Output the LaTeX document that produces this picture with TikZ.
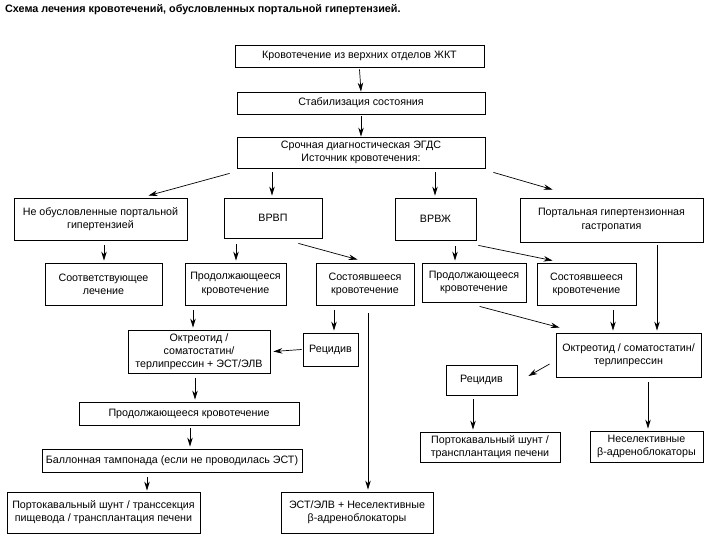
\documentclass[tikz,border=0pt]{standalone}
\usepackage{fontspec}
\setmainfont{Liberation Sans}
\usetikzlibrary{arrows.meta,calc}
\tikzset{
  box/.style={draw, line width=0.8pt, align=center, inner sep=0.5pt, font=\fontsize{10.7}{13.2}\selectfont},
  arr/.style={line width=0.7pt, -{Stealth[length=9pt,width=5.5pt]}},
}
\begin{document}
\begin{tikzpicture}[x=1pt,y=-1pt]
\useasboundingbox[fill=white] (0,0) rectangle (720,540);
\node[anchor=west, font=\bfseries\fontsize{10.8}{12}\selectfont, inner sep=0pt] (title) at (5,10) {Схема лечения кровотечений, обусловленных портальной гипертензией.};

\node[box, minimum width=249pt, minimum height=22pt] (B1) at (359.5,56) {Кровотечение из верхних отделов ЖКТ};
\node[box, minimum width=248pt, minimum height=22pt] (B2) at (361,103) {Стабилизация состояния};
\node[box, minimum width=248pt, minimum height=31pt] (B3) at (361,152.5) {Срочная диагностическая ЭГДС\\Источник кровотечения:};

\node[box, minimum width=173pt, minimum height=42pt] (L1) at (100.5,219) {Не обусловленные портальной\\гипертензией};
\node[box, minimum width=98pt, minimum height=40pt] (V1) at (273,218) {ВРВП};
\node[box, minimum width=81pt, minimum height=42pt] (V2) at (435.5,219) {ВРВЖ};
\node[box, minimum width=183pt, minimum height=44pt] (PG) at (611.5,220) {Портальная гипертензионная\\гастропатия};

\node[box, minimum width=117pt, minimum height=42pt] (L2) at (103.5,284) {Соответствующее\\лечение};
\node[box, minimum width=101pt, minimum height=42pt] (P1) at (235.5,284) {Продолжающееся\\кровотечение};
\node[box, minimum width=98pt, minimum height=42pt] (S1) at (365,284) {Состоявшееся\\кровотечение};
\node[box, minimum width=104pt, minimum height=39pt] (P2) at (474,282.5) {Продолжающееся\\кровотечение};
\node[box, minimum width=99pt, minimum height=42pt] (S2) at (586.5,284) {Состоявшееся\\кровотечение};

\node[box, minimum width=142pt, minimum height=43pt] (O1) at (199,351.5) {Октреотид /\\соматостатин/\\терлипрессин + ЭСТ/ЭЛВ};
\node[box, minimum width=55pt, minimum height=33pt] (R1) at (330.5,349.5) {Рецидив};
\node[box, minimum width=220pt, minimum height=23pt] (O2) at (189,413.5) {Продолжающееся кровотечение};
\node[box, minimum width=260pt, minimum height=23pt] (O3) at (172,460.5) {Баллонная тампонада (если не проводилась ЭСТ)};
\node[box, minimum width=193pt, minimum height=41pt] (O4) at (103.5,512.5) {Портокавальный шунт / транссекция\\пищевода / трансплантация печени};
\node[box, minimum width=152pt, minimum height=41pt] (E1) at (357,512.5) {ЭСТ/ЭЛВ + Неселективные\\β-адреноблокаторы};

\node[box, minimum width=145pt, minimum height=44pt] (OC) at (628.5,355) {Октреотид / соматостатин/\\терлипрессин};
\node[box, minimum width=71pt, minimum height=30pt] (R2) at (481.5,380) {Рецидив};
\node[box, minimum width=140pt, minimum height=30pt] (PS) at (490,447) {Портокавальный шунт /\\трансплантация печени};
\node[box, minimum width=113pt, minimum height=31pt] (NB) at (646.5,446.5) {Неселективные\\β-адреноблокаторы};

% connectors
\draw[arr] ($(B1.south)+(0,2)$) -- (B2.north);
\draw[arr] ($(B2.south)+(0,2)$) -- (B3.north);
\draw[arr] ($(B3.south west)+(-7,5)$) -- ($(L1.north)+(48,-2)$);
\draw[arr] ($(B3.south -| 272,0)+(0,4)$) -- ($(V1.north -| 272,0)+(0,-2)$);
\draw[arr] ($(B3.south -| 435,0)+(0,4)$) -- ($(V2.north -| 435,0)+(0,-2)$);
\draw[arr] ($(B3.south east)+(8,4)$) -- ($(PG.north west)+(33,-8)$);

\draw[arr] ($(L1.south -| 104,0)+(0,5)$) -- ($(L2.north -| 104,0)+(0,-2)$);
\draw[arr] ($(V1.south -| 236,0)+(0,6)$) -- ($(P1.north -| 236,0)+(0,-2)$);
\draw[arr] ($(V1.south east)+(-24,5)$) -- ($(S1.north west)+(42,-3)$);
\draw[arr] ($(V2.south -| 455,0)+(0,6)$) -- ($(P2.north -| 455,0)+(0,-2)$);
\draw[arr] ($(V2.south east)+(2,5)$) -- ($(S2.north west)+(16,-2)$);

\draw[arr] ($(P1.south -| 193,0)+(0,5)$) -- ($(O1.north -| 193,0)+(0,-2)$);
\draw[arr] ($(S1.south -| 334,0)+(0,5)$) -- ($(R1.north -| 334,0)+(0,-2)$);
\draw[arr] ($(R1.west)+(-1,0)$) -- ($(O1.east)+(3,0)$);
\draw[arr] ($(S1.south -| 368,0)+(0,8)$) -- ($(E1.north -| 368,0)+(0,-2)$);
\draw[arr] ($(O1.south -| 195,0)+(0,5)$) -- ($(O2.north -| 195,0)+(0,-2)$);
\draw[arr] ($(O2.south -| 190,0)+(0,3)$) -- ($(O3.north -| 190,0)+(0,-2)$);
\draw[arr] ($(O3.south -| 147,0)+(0,5)$) -- ($(O4.north -| 147,0)+(0,-1)$);

\draw[arr] ($(P2.south west)+(58,4)$) -- ($(OC.north west)+(4,-5)$);
\draw[arr] ($(S2.south -| 613,0)+(0,5)$) -- ($(OC.north -| 613,0)+(0,-2)$);
\draw[arr] ($(PG.south -| 657,0)+(0,3)$) -- ($(OC.north -| 657,0)+(0,-2)$);
\draw[arr] ($(OC.west)+(-6,9)$) -- ($(R2.east)+(11,-4)$);
\draw[arr] ($(R2.south -| 473,0)+(0,4)$) -- ($(PS.north -| 473,0)+(0,-2)$);
\draw[arr] ($(OC.south -| 648,0)+(0,5)$) -- ($(NB.north -| 648,0)+(0,-2)$);
\end{tikzpicture}
\end{document}
